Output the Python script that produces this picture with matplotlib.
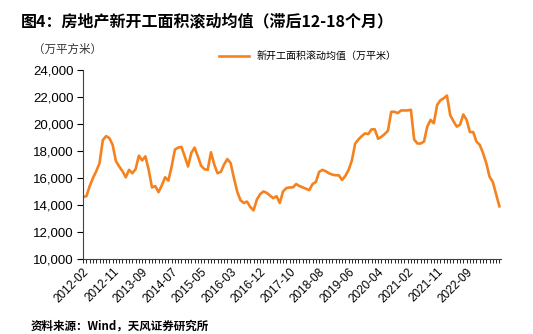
import matplotlib
matplotlib.use("Agg")
import matplotlib.pyplot as plt
from matplotlib.ticker import FuncFormatter, FixedLocator

plt.rcParams['font.family'] = ['Noto Sans CJK SC', 'DejaVu Sans']

# monthly labels, January is missing (Jan-Feb data reported together)
dates = [f"{y}-{m:02d}" for y in range(2012, 2024) for m in range(2, 13)][:128]

values = [14600, 14650, 15400, 16000, 16500, 17100, 18800, 19100, 18950, 18450,
          17250, 16850, 16500, 16050, 16600, 16350, 16650, 17650, 17300, 17600,
          16600, 15300, 15400, 14950, 15450, 16050, 15800, 16850, 18100, 18250,
          18300, 17600, 16850, 17850, 18250, 17600, 16900, 16650, 16600, 17900,
          17000, 16350, 16450, 17000, 17400, 17100, 16000, 15000, 14350, 14150,
          14250, 13850, 13600, 14400, 14800, 15000, 14900, 14700, 14500, 14650,
          14150, 15000, 15250, 15300, 15300, 15550, 15400, 15300, 15200, 15100,
          15550, 15700, 16450, 16600, 16500, 16350, 16250, 16200, 16200, 15850,
          16150, 16600, 17300, 18550, 18850, 19100, 19300, 19250, 19600, 19600,
          18900, 19050, 19250, 19500, 20900, 20900, 20800, 21000, 21000, 21000,
          21050, 18850, 18550, 18550, 18700, 19800, 20300, 20050, 21400, 21750,
          21900, 22100, 20650, 20200, 19800, 19950, 20700, 20300, 19400, 19400,
          18700, 18450, 17850, 17100, 16100, 15700, 14800, 13900]

title = "图4：房地产新开工面积滚动均值（滞后12-18个月）"
unit = "（万平方米）"
series_name = "新开工面积滚动均值（万平米）"
source = "资料来源：Wind，天风证券研究所"

fig = plt.figure(figsize=(5.33, 3.34), dpi=100)
ax = fig.add_axes([0.156, 0.2246, 0.784, 0.566])

x = list(range(len(values)))
ax.plot(x, values, color='#F5821F', lw=1.9, label=series_name)

ax.set_xlim(0, len(values) - 0.5)
ax.set_ylim(10000, 24000)
ax.set_yticks(range(10000, 24001, 2000))
ax.yaxis.set_major_formatter(FuncFormatter(lambda v, p: f"{int(v):,}"))
for lab in ax.get_yticklabels():
    lab.set_fontfamily('Liberation Sans')
    lab.set_fontsize(9.5)

major = x[::9][:14]
ax.xaxis.set_major_locator(FixedLocator(major))
ax.set_xticklabels([dates[i] for i in major], rotation=45, ha='right',
                   rotation_mode='anchor', fontsize=8.5, family='Liberation Sans')
ax.xaxis.set_minor_locator(FixedLocator(x))
ax.tick_params(axis='x', which='both', length=3, width=0.6, direction='out', pad=2)
ax.tick_params(axis='y', length=4, width=0.8, direction='out', pad=3)

for s in ['top', 'right']:
    ax.spines[s].set_visible(False)
ax.spines['left'].set_color('#404040')
ax.spines['bottom'].set_color('#404040')

fig.text(0.04, 0.935, title, fontsize=11.5, fontweight='bold', ha='left', va='center')
fig.text(0.062, 0.852, unit, fontsize=8.3, ha='left', va='center', color='#333333')
ax.legend(loc='upper left', bbox_to_anchor=(0.315, 1.12), frameon=False,
          fontsize=7.2, handlelength=3, borderaxespad=0)
fig.text(0.058, 0.025, source, fontsize=8.3, fontweight='bold', ha='left', va='center')

fig.savefig('out.png', dpi=100)
